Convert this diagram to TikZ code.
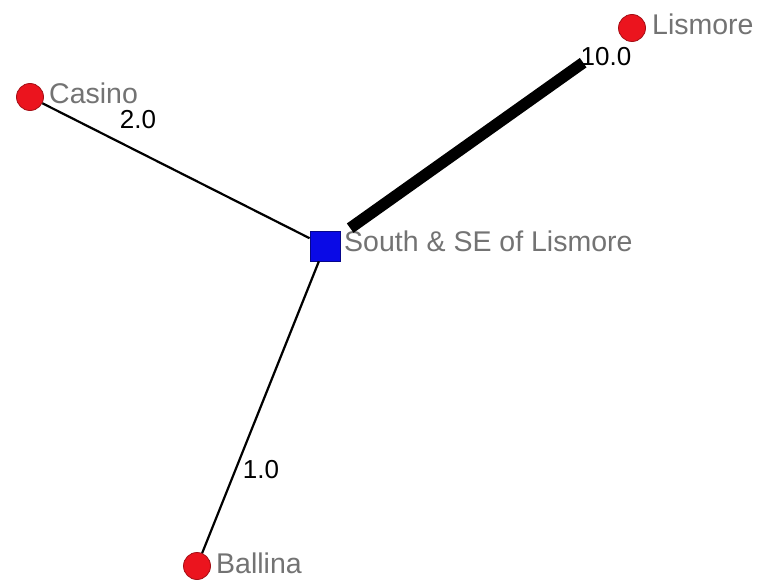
\documentclass[tikz,border=0pt]{standalone}
\usepackage{fontspec}
\setmainfont{Liberation Sans}
\definecolor{vred}{RGB}{235,20,30}
\definecolor{vblue}{RGB}{10,10,230}
\definecolor{labgray}{RGB}{115,115,115}
\begin{document}
\begin{tikzpicture}[x=1pt,y=-1pt,
  actor/.style={circle,fill=vred,draw=vred!70!black,line width=0.8pt,minimum size=27pt,inner sep=0pt},
  region/.style={rectangle,fill=vblue,draw=vblue!60!black,line width=0.8pt,minimum size=30pt,inner sep=0pt},
  nlabel/.style={anchor=west,text=labgray,font=\fontsize{28.5}{28.5}\selectfont,inner sep=0pt},
  elabel/.style={text=black,font=\fontsize{26}{26}\selectfont,inner sep=0pt},
  tie/.style={draw=black,line width=2.2pt}]
\useasboundingbox (0,0) rectangle (758,586);
\fill[white] (0,0) rectangle (758,586);
\node[actor] (casino) at (30,97) {};
\node[actor] (lismore) at (632,28) {};
\node[actor] (ballina) at (197,566) {};
\node[region] (south) at (325,246) {};
\node[nlabel] (tcasino) at (49,93) {Casino};
\node[nlabel] (tlismore) at (652,24) {Lismore};
\node[nlabel] (tballina) at (216,563) {Ballina};
\node[nlabel] (tsouth) at (344,241) {South \& SE of Lismore};
\draw[tie] (casino) -- (south);
\draw[tie] (ballina) -- (south);
\draw[draw=black,line width=11.5pt,shorten <=46pt,shorten >=12pt] (lismore) -- (south);
\node[elabel] (l2) at (138,120) {2.0};
\node[elabel] (l10) at (606,57) {10.0};
\node[elabel] (l1) at (261,470) {1.0};
\end{tikzpicture}
\end{document}
